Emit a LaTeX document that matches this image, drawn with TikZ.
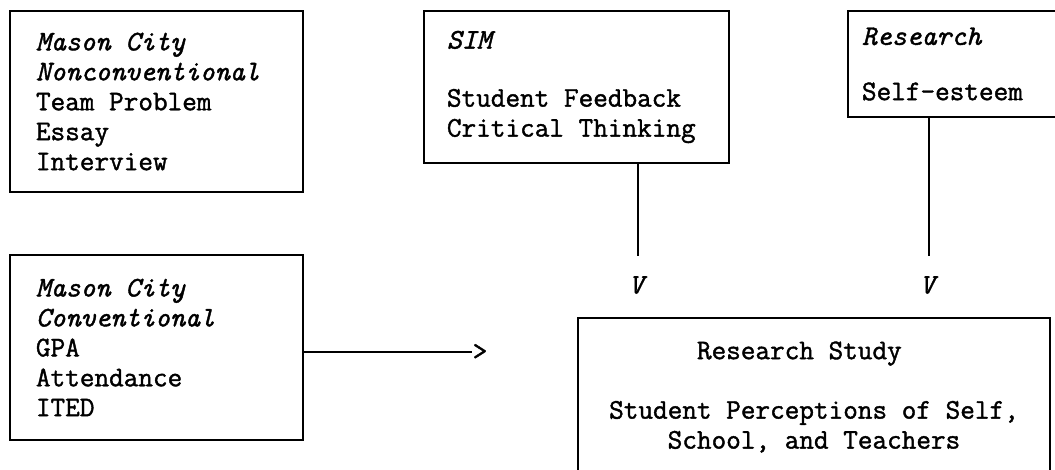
\documentclass[tikz,border=0pt]{standalone}
\usepackage{fontspec}
\newfontfamily\typewriter[FakeBold=1.4]{Latin Modern Mono}

\begin{document}
\begin{tikzpicture}[x=0.025cm, y=-0.025cm, line width=1pt,
	every node/.style={font=\typewriter\fontsize{20.2}{21.3}\selectfont},
	box/.style={draw, align=left, inner sep=0pt,
		execute at begin node={\spaceskip=0pt\xspaceskip=0pt}},
	vmark/.style={inner xsep=0pt, inner ysep=14pt}]
	\path[use as bounding box, clip] (0,0) rectangle (1055,469);
	
	\node[box, minimum width=7.325cm, minimum height=4.525cm, text width=6.025cm] (mcnon) at (156.5,101.5)
		{\textit{Mason City}\\ \textit{Nonconventional}\\ Team Problem\\ Essay\\ Interview};
	\node[box, minimum width=7.625cm, minimum height=3.8cm, text width=6.475cm] (sim) at (576.5,87)
		{\textit{SIM}\\[20pt] Student Feedback\\ Critical Thinking};
	\node[box, minimum width=5.8cm, minimum height=2.65cm, text width=5.1cm] (res) at (964,64)
		{\textit{Research}\\[18pt] Self-esteem};
	\node[box, minimum width=7.325cm, minimum height=4.625cm, text width=6.025cm] (mcconv) at (156.5,347.5)
		{\textit{Mason City}\\ \textit{Conventional}\\ GPA\\ Attendance\\ ITED};
	\node[box, align=center, minimum width=11.8cm, minimum height=3.95cm] (study) at (814,397)
		{Research Study\phantom{xx}\\[21pt] Student Perceptions of Self,\\ School, and Teachers};
	
	\node[vmark] (v1) at (638,285) {\textit{V}};
	\node[vmark] (v2) at (929,285) {\textit{V}};
	\node[inner sep=0pt] (gt) at (480,352) {>};
	
	\draw (sim.south -| v1) -- (v1.north);
	\draw (res.south -| v2) -- (v2.north);
	\draw (mcconv.east |- gt.west) -- (gt.west);
\end{tikzpicture}
\end{document}
